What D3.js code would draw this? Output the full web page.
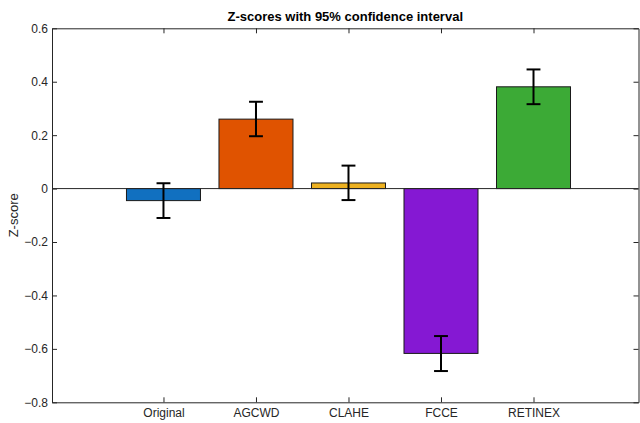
<!DOCTYPE html>
<html>
<head>
<meta charset="utf-8">
<script src="https://cdn.jsdelivr.net/npm/d3@7"></script>
<style>
  html, body { margin: 0; padding: 0; background: #fff; }
  svg { display: block; font-family: "Liberation Sans", Arial, Helvetica, sans-serif; }
</style>
</head>
<body>
<svg id="chart" width="640" height="423"></svg>
<script>
// Methods compared and their mean z-scores with 95% CI bounds
const categories = ["Original", "AGCWD", "CLAHE", "FCCE", "RETINEX"];
const zScores   = [-0.045, 0.260, 0.021, -0.617, 0.381];
const ciLower   = [-0.110, 0.196, -0.043, -0.683, 0.316];
const ciUpper   = [ 0.020, 0.325,  0.086, -0.552, 0.446];
const barColors = ["#1170C0", "#E05300", "#EDB120", "#8518D3", "#3CAA36"];
const yTicks    = [-0.8, -0.6, -0.4, -0.2, 0, 0.2, 0.4, 0.6];

const svg = d3.select("#chart");
const L = 52, R = 638.5, T = 28.3, B = 402.3;
const axisColor = "#262626";

// x positions 1..5 on a numeric axis, bars 0.8 wide
const x = d3.scaleLinear().domain([-0.205, 6.135]).range([L, R]);
const y = d3.scaleLinear().domain([-0.8, 0.6]).range([B, T]);
const barW = 0.8;

const g = svg.append("g");

// Bars
g.selectAll("rect.bar")
  .data(zScores)
  .enter().append("rect")
  .attr("class", "bar")
  .attr("x", (d, i) => x(i + 1 - barW / 2))
  .attr("width", (d, i) => x(i + 1 + barW / 2) - x(i + 1 - barW / 2))
  .attr("y", d => y(Math.max(0, d)))
  .attr("height", d => Math.abs(y(d) - y(0)))
  .attr("fill", (d, i) => barColors[i])
  .attr("stroke", "#1a1a1a")
  .attr("stroke-width", 1);

// Baseline at zero
g.append("line")
  .attr("x1", L).attr("x2", R)
  .attr("y1", y(0)).attr("y2", y(0))
  .attr("stroke", axisColor).attr("stroke-width", 1);

// Error bars
const capHalf = 0.075;
const eb = g.selectAll("g.err").data(zScores).enter().append("g").attr("class", "err")
  .attr("stroke", "#000").attr("stroke-width", 2);
eb.append("line")
  .attr("x1", (d, i) => x(i + 1)).attr("x2", (d, i) => x(i + 1))
  .attr("y1", (d, i) => y(ciLower[i])).attr("y2", (d, i) => y(ciUpper[i]));
eb.append("line")
  .attr("x1", (d, i) => x(i + 1 - capHalf)).attr("x2", (d, i) => x(i + 1 + capHalf))
  .attr("y1", (d, i) => y(ciUpper[i])).attr("y2", (d, i) => y(ciUpper[i]));
eb.append("line")
  .attr("x1", (d, i) => x(i + 1 - capHalf)).attr("x2", (d, i) => x(i + 1 + capHalf))
  .attr("y1", (d, i) => y(ciLower[i])).attr("y2", (d, i) => y(ciLower[i]));

// Axes: left with labels, right/top mirrored ticks, bottom with categories
const tickLen = 5;
const fmt = d => d === 0 ? "0" : d3.format(".1f")(d);

const leftAxis = d3.axisLeft(y).tickValues(yTicks).tickFormat(fmt).tickSizeInner(-tickLen).tickSizeOuter(0).tickPadding(4);
const rightAxis = d3.axisRight(y).tickValues(yTicks).tickFormat("").tickSizeInner(-tickLen).tickSizeOuter(0);
const bottomAxis = d3.axisBottom(x).tickValues(d3.range(1, categories.length + 1))
  .tickFormat(d => categories[d - 1]).tickSizeInner(-tickLen).tickSizeOuter(0).tickPadding(6);
const topAxis = d3.axisTop(x).tickValues(d3.range(1, categories.length + 1))
  .tickFormat("").tickSizeInner(-tickLen).tickSizeOuter(0);

function style(sel) {
  sel.select(".domain").attr("stroke", axisColor).attr("stroke-width", 1);
  sel.selectAll(".tick line").attr("stroke", axisColor).attr("stroke-width", 1);
  sel.selectAll(".tick text").attr("fill", axisColor).style("font-size", "12px");
}

svg.append("g").attr("transform", `translate(${L},0)`).call(leftAxis).call(style);
svg.append("g").attr("transform", `translate(${R},0)`).call(rightAxis).call(style);
svg.append("g").attr("transform", `translate(0,${B})`).call(bottomAxis).call(style);
svg.append("g").attr("transform", `translate(0,${T})`).call(topAxis).call(style);

// Y-axis label
svg.append("text")
  .attr("transform", `translate(18,${(T + B) / 2}) rotate(-90)`)
  .attr("text-anchor", "middle")
  .attr("fill", axisColor)
  .style("font-size", "13px")
  .text("Z-score");

// Title
svg.append("text")
  .attr("x", (L + R) / 2).attr("y", 21)
  .attr("text-anchor", "middle")
  .attr("fill", "#000")
  .style("font-size", "13px")
  .style("font-weight", "bold")
  .text("Z-scores with 95% confidence interval");
</script>
</body>
</html>
